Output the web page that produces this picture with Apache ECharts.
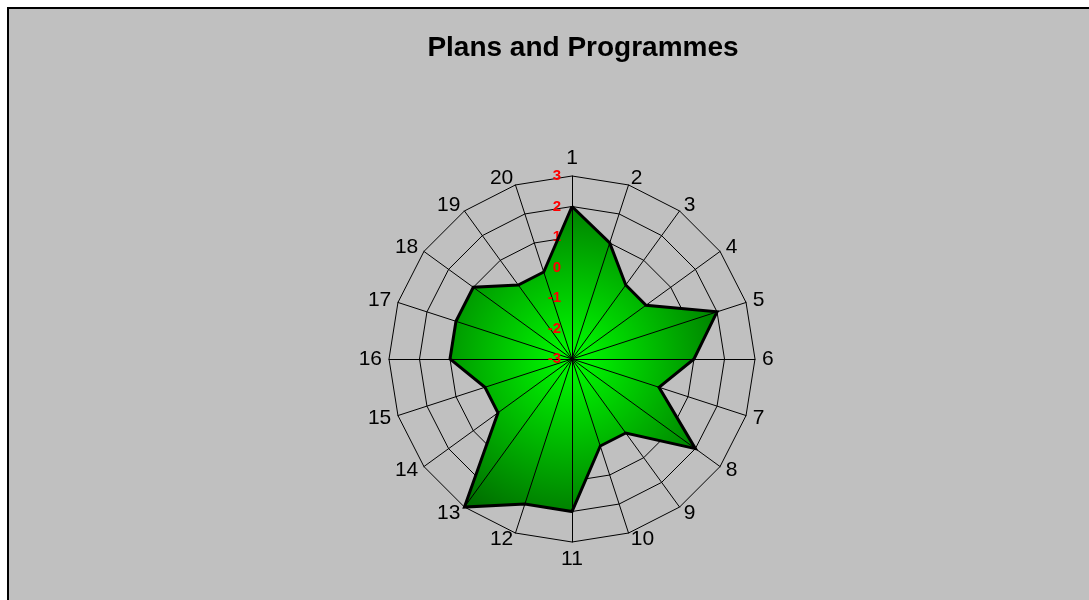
<!DOCTYPE html>
<html>
<head>
<meta charset="utf-8">
<script src="https://cdn.jsdelivr.net/npm/echarts@6/dist/echarts.min.js"></script>
<style>
html,body{margin:0;padding:0;background:#ffffff;}
#chart{width:1089px;height:600px;}
</style>
</head>
<body>
<div id="chart"></div>
<script>
const titleText = 'Plans and Programmes';
const categories = ['1','2','3','4','5','6','7','8','9','10','11','12','13','14','15','16','17','18','19','20'];
const values = [2,1,0,0,2,1,0,2,0,0,2,2,3,0,0,1,1,1,0,0];
const ticks = [-3,-2,-1,0,1,2,3];

const tMin = ticks[0], tMax = ticks[ticks.length-1];
// ECharts lays out radar axes counter-clockwise; reorder so categories run clockwise
const order = categories.map((c, i) => i === 0 ? 0 : categories.length - i);
const cwCats = order.map(i => categories[i]);
const cwVals = order.map(i => values[i]);

const chart = echarts.init(document.getElementById('chart'), null, {renderer:'canvas'});
const center = [572, 359];
const radius = 183;
const FONT = 'Liberation Sans, Arial, sans-serif';

const labelStyle = {show: true, color: '#ff0000', fontWeight: 'bold', fontSize: 15,
  fontFamily: FONT, margin: 11, showMinLabel: true, showMaxLabel: true,
  formatter: function (v) { return '{a|' + v + '}'; },
  rich: {a: {fontSize: 15, fontWeight: 'bold', color: '#ff0000', fontFamily: FONT}}};

const ind0 = cwCats.map(c => ({name: c, min: tMin, max: tMax}));
const ind1 = cwCats.map((c, i) => {
  const o = {name: c, min: tMin, max: tMax};
  if (i === 0) o.axisLabel = labelStyle;
  return o;
});

const option = {
  animation: false,
  textStyle: {fontFamily: FONT},
  graphic: [{
    type: 'rect', z: -10, silent: true,
    shape: {x: 8, y: 8, width: 1200, height: 700},
    style: {fill: '#c0c0c0', stroke: '#000', lineWidth: 2}
  }],
  title: {
    text: titleText, left: 578, top: 29, textAlign: 'center',
    textStyle: {fontFamily: FONT, fontSize: 28, fontWeight: 'bold', color: '#000'}
  },
  radar: [{
    z: 1,
    center: center, radius: radius, startAngle: 90, shape: 'polygon',
    splitNumber: ticks.length - 1,
    indicator: ind0,
    axisName: {color: '#000', fontSize: 21, fontFamily: FONT},
    nameGap: 7,
    splitLine: {lineStyle: {color: '#000', width: 1}},
    splitArea: {show: false},
    axisLine: {show: false},
    axisTick: {show: false},
    axisLabel: {show: false}
  }, {
    z: 3,
    center: center, radius: radius, startAngle: 90, shape: 'polygon',
    splitNumber: ticks.length - 1,
    indicator: ind1,
    axisName: {show: false},
    splitLine: {show: false},
    splitArea: {show: false},
    axisLine: {show: true, lineStyle: {color: '#000', width: 1, opacity: 1}},
    axisTick: {show: false},
    axisLabel: Object.assign({}, labelStyle, {show: false})
  }],
  series: [{
    type: 'radar', radarIndex: 0, z: 2,
    symbol: 'none',
    lineStyle: {width: 0, opacity: 0},
    areaStyle: {
      opacity: 1,
      color: new echarts.graphic.RadialGradient(center[0], center[1], radius, [
        {offset: 0, color: '#00ff00'},
        {offset: 1, color: '#006800'}
      ], true)
    },
    data: [{value: cwVals, name: titleText}]
  }, {
    type: 'radar', radarIndex: 0, z: 4,
    symbol: 'none',
    lineStyle: {color: '#000', width: 3, join: 'miter'},
    data: [{value: cwVals, name: titleText}]
  }]
};
chart.setOption(option);
</script>
</body>
</html>
